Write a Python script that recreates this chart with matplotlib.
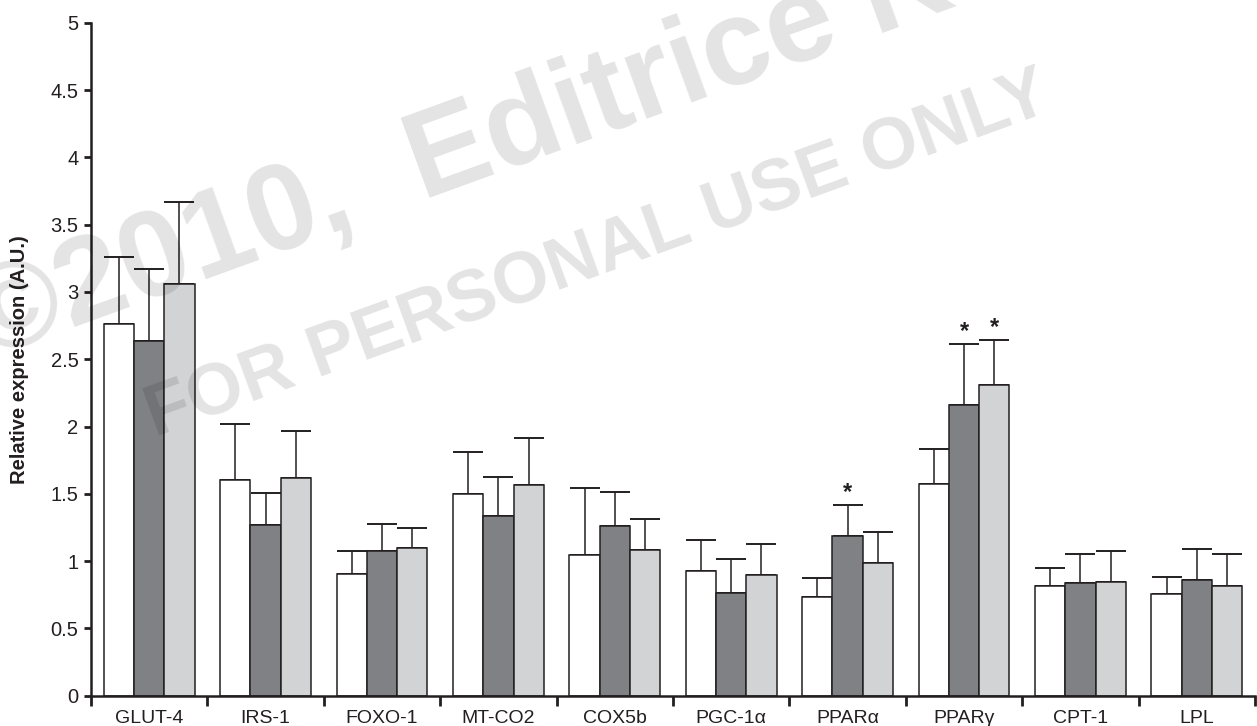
import numpy as np
import matplotlib.pyplot as plt

plt.rcParams['font.family'] = ['Liberation Sans', 'DejaVu Sans']

# Genes on the x axis
genes = ['GLUT-4', 'IRS-1', 'FOXO-1', 'MT-CO2', 'COX5b',
         'PGC-1α', 'PPARα', 'PPARγ', 'CPT-1', 'LPL']

# Mean relative expression (A.U.) for the three groups
white_mean = [2.76, 1.60, 0.906, 1.50, 1.043, 0.926, 0.733, 1.575, 0.813, 0.753]
dark_mean = [2.635, 1.268, 1.075, 1.333, 1.261, 0.761, 1.187, 2.162, 0.840, 0.862]
light_mean = [3.056, 1.615, 1.10, 1.565, 1.083, 0.897, 0.988, 2.311, 0.847, 0.817]

# Upper error bars (SEM)
white_err = [0.50, 0.42, 0.167, 0.31, 0.50, 0.231, 0.141, 0.258, 0.136, 0.127]
dark_err = [0.535, 0.238, 0.203, 0.292, 0.252, 0.257, 0.23, 0.451, 0.215, 0.23]
light_err = [0.614, 0.352, 0.144, 0.347, 0.232, 0.228, 0.226, 0.332, 0.228, 0.236]

# significant bars: (gene index, group index)
signif = [(6, 1), (7, 1), (7, 2)]

ink = '#231f20'
colors = ['#ffffff', '#808185', '#d1d3d4']
means = [white_mean, dark_mean, light_mean]
errs = [white_err, dark_err, light_err]

fig = plt.figure(figsize=(12.57, 7.26), dpi=100)
ax = fig.add_axes([91 / 1257, 30.3 / 726, 1164 / 1257, 673 / 726])

x = np.arange(len(genes)) + 0.5
w = 0.26
for k in range(3):
    xs = x + (k - 1) * w
    m = np.array(means[k])
    e = np.array(errs[k])
    ax.errorbar(xs, m, yerr=[np.zeros_like(e), e], fmt='none', ecolor=ink,
                elinewidth=1.1, capsize=10.5, capthick=1.4, zorder=1)
    ax.bar(xs, m, width=w, color=colors[k], edgecolor=ink, linewidth=1.1, zorder=2)

for gi, k in signif:
    top = means[k][gi] + errs[k][gi]
    ax.annotate('*', (x[gi] + (k - 1) * w, top), xytext=(0, 1), textcoords='offset points',
                ha='center', va='bottom', fontsize=17, fontweight='bold', color=ink)

ax.set_xlim(0, len(genes))
ax.set_ylim(0, 5)
ax.set_yticks(np.arange(0, 5.01, 0.5))
ax.set_yticklabels(['0', '0.5', '1', '1.5', '2', '2.5', '3', '3.5', '4', '4.5', '5'])
ax.set_xticks(np.arange(len(genes) + 1))
ax.set_xticklabels([])
ax.set_xticks(x, minor=True)
ax.set_xticklabels(genes, minor=True)
ax.tick_params(axis='x', which='major', length=7, width=2, color=ink, direction='out')
ax.tick_params(axis='x', which='minor', length=0, pad=10, labelsize=14, labelcolor=ink)
ax.tick_params(axis='y', length=5, width=2, color=ink, direction='out', pad=4,
               labelsize=14.5, labelcolor=ink)

for s in ['top', 'right']:
    ax.spines[s].set_visible(False)
for s in ['left', 'bottom']:
    ax.spines[s].set_linewidth(1.8)
    ax.spines[s].set_color(ink)

ax.set_ylabel('Relative expression (A.U.)', fontsize=14.5, fontweight='bold', color=ink)
ax.yaxis.set_label_coords(-0.053, 0.5)

# publisher watermark
fig.text(-13 / 1257, 1 - 359 / 726, '©2010,  Editrice Kurtis', fontsize=88, fontweight='bold',
         color='k', alpha=0.11, rotation=20, rotation_mode='anchor',
         ha='left', va='baseline', zorder=10)
fig.text(155 / 1257, 1 - 437 / 726, 'FOR PERSONAL USE ONLY', fontsize=52, fontweight='bold',
         color='k', alpha=0.11, rotation=20, rotation_mode='anchor',
         ha='left', va='baseline', zorder=10)

fig.savefig('out.png', dpi=100)
